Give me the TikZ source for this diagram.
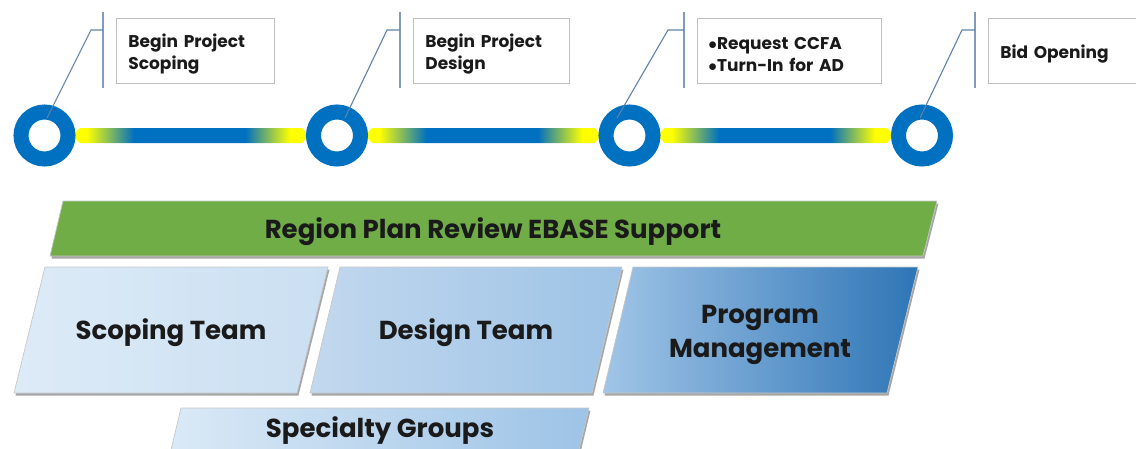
\documentclass[tikz,border=0pt]{standalone}
\usepackage{fontspec}
\setmainfont{Poppins}
\usepackage{tikz}
\usetikzlibrary{calc,positioning,shadows}

\definecolor{tlblue}{HTML}{0070C0}
\definecolor{tlyellow}{HTML}{FFFF00}
\definecolor{leadgray}{HTML}{5E82A8}
\definecolor{tickblue}{HTML}{7F9CBF}
\definecolor{notegray}{HTML}{BFBFBF}
\definecolor{bandgreen}{HTML}{70AD47}
\definecolor{txtblack}{HTML}{1A1A1A}
\definecolor{paleblue}{HTML}{DDEBF7}
\definecolor{softblue}{HTML}{C2D8EE}
\definecolor{midblue}{HTML}{9DC3E6}
\definecolor{deepblue}{HTML}{2E75B6}

\pgfdeclarehorizontalshading{barshade}{100bp}{color(0bp)=(tlyellow); color(25bp)=(tlyellow);
  color(28bp)=(tlyellow); color(38bp)=(tlblue); color(61.5bp)=(tlblue); color(71bp)=(tlyellow);
  color(75bp)=(tlyellow); color(100bp)=(tlyellow)}

\newcommand\notefont{\fontsize{17}{22}\selectfont\bfseries\color{txtblack}}
\newcommand\bandfont{\fontsize{26}{34}\selectfont\bfseries\color{txtblack}}
\newcommand\topstrut{\rule{0pt}{20pt}}

\begin{document}
\begin{tikzpicture}[x=1pt,y=-1pt,
  milestone/.style={circle,draw=tlblue,line width=15pt,fill=white,minimum size=47pt,inner sep=0pt},
  note/.style={draw=notegray,line width=0.8pt,fill=white,minimum height=65pt,inner xsep=12pt,
    inner ysep=0pt,align=left,anchor=west,font=\notefont},
  leader/.style={leadgray,line width=1.1pt},
  tickline/.style={tickblue,line width=1.6pt},
  band/.style={draw=black!22,line width=0.7pt,
    drop shadow={shadow xshift=1.5pt,shadow yshift=-2.5pt,opacity=0.35,fill=black}},
  label/.style={align=center,font=\bandfont,inner sep=0pt}]

\useasboundingbox (0,0) rectangle (1136,448);
\clip (0,0) rectangle (1136,448);

%% Milestones on the time line
\coordinate (m1) at (44.5,135.5);
\coordinate (m2) at (337,135.5);
\coordinate (m3) at (629.5,135.5);
\coordinate (m4) at (922,135.5);

%% Bars between the milestones (drawn below the rings)
\foreach \a/\b in {m1/m2,m2/m3,m3/m4}{
  \path[shading=barshade]
    ($(\a)+(28,0)$) -- ($(\a)+(35,-7.5)$) -- ($(\b)+(-35,-7.5)$)
    -- ($(\b)+(-28,0)$) -- ($(\b)+(-35,7.5)$) -- ($(\a)+(35,7.5)$) -- cycle;
}
\foreach \m in {m1,m2,m3,m4}
  \node[milestone] (ring\m) at (\m) {};

%% Note boxes
\node[note,text width=134pt] (n1) at (116,50.5) {\topstrut Begin Project\\Scoping};
\node[note,text width=132pt] (n2) at (413,50.5) {\topstrut Begin Project\\Design};
\node[note,text width=162pt,inner xsep=11pt] (n3) at (697,50.5)
  {\topstrut$\bullet$Request CCFA\\$\bullet$Turn-In for AD};
\node[note,text width=160pt] (n4) at (988,50.5) {\topstrut Bid Opening};

%% Leaders from the rings to the notes
\foreach \m/\n/\dx/\ex in {m1/n1/2.5/-12, m2/n2/8/-13, m3/n3/-12.5/-16, m4/n4/-2/-13}{
  \draw[tickline] ($(\n.west)+(-13,-38.5)$) -- ($(\n.west)+(-13,37.5)$);
  \draw[leader] ($(\m)+(\dx,-17.5)$) -- ($(\n.west)+(-13+\ex,-20.5)$)
    -- ($(\n.west)+(-13,-20.5)$);
}

%% Support band and teams
\path[band,fill=bandgreen] (63,201) -- (937,201) -- (923,256) -- (50,256) -- cycle;
\node[label] (ebase) at (493,231.5) {Region Plan Review EBASE Support};

\path[band,left color=paleblue,right color=paleblue!70!midblue]
  (45,267) -- (328,267) -- (297,393) -- (14,393) -- cycle;
\node[label] (scope) at (171,333) {Scoping Team};

\path[band,left color=softblue,right color=midblue]
  (340,267) -- (622,267) -- (592,393) -- (310,393) -- cycle;
\node[label] (design) at (466,333) {Design Team};

\path[band,left color=midblue!90!softblue,middle color=midblue!70!deepblue,right color=deepblue]
  (633,267) -- (918,267) -- (887,393) -- (603,393) -- cycle;
\node[label] (progm) at (760,334.5) {Program\\Management};

\path[band,left color=paleblue,right color=midblue]
  (181,408) -- (589,408) -- (559,534) -- (151,534) -- cycle;
\node[label] (special) at (380,431) {Specialty Groups};

\end{tikzpicture}
\end{document}
